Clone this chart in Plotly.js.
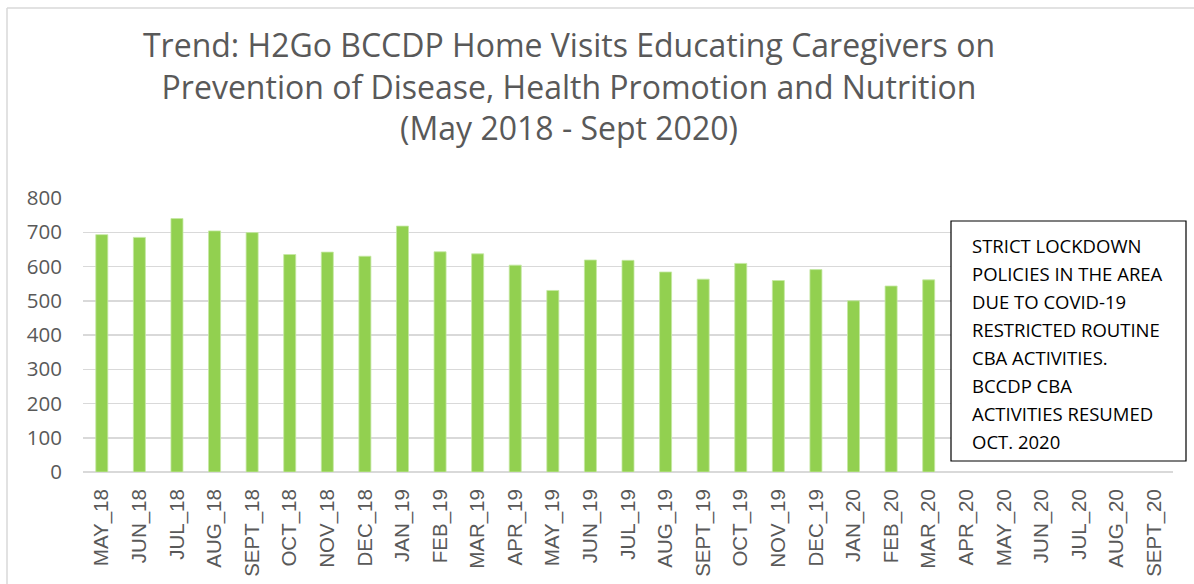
<!DOCTYPE html>
<html>
<head>
<meta charset="utf-8">
<script src="https://cdn.plot.ly/plotly-3.0.1.min.js"></script>
<style>
html,body{margin:0;padding:0;background:#fff;}
#chart{width:1194px;height:584px;}
</style>
</head>
<body>
<div id="chart"></div>
<script>
var categories = ["MAY_18","JUN_18","JUL_18","AUG_18","SEPT_18","OCT_18","NOV_18","DEC_18",
  "JAN_19","FEB_19","MAR_19","APR_19","MAY_19","JUN_19","JUL_19","AUG_19","SEPT_19","OCT_19","NOV_19","DEC_19",
  "JAN_20","FEB_20","MAR_20","APR_20","MAY_20","JUN_20","JUL_20","AUG_20","SEPT_20"];
var homeVisits = [693,685,740,704,699,635,642,630,
  718,643,637,604,530,619,618,584,563,609,559,591,
  500,543,561,null,null,null,null,null,null];
var yTicks = [0,100,200,300,400,500,600,700,800];
var titleLines = ["Trend: H2Go BCCDP Home Visits Educating Caregivers on",
  "Prevention of Disease, Health Promotion and Nutrition",
  "(May 2018 - Sept 2020)"];
var noteLines = ["STRICT LOCKDOWN","POLICIES IN THE AREA","DUE TO COVID-19",
  "RESTRICTED ROUTINE","CBA ACTIVITIES.","BCCDP CBA","ACTIVITIES RESUMED","OCT. 2020"];

var W = 1194, H = 584;
var mL = 83, mR = 21, mT = 198, mB = 112;
var pw = W - mL - mR, ph = H - mT - mB;
function px2x(x){ return (x - mL) / pw; }
function px2y(y){ return (H - mB - y) / ph; }

var annotations = noteLines.map(function(t, i){
  return {
    text: t, xref: 'paper', yref: 'paper',
    x: px2x(970), y: px2y(245 + 28 * i),
    xanchor: 'left', yanchor: 'middle', showarrow: false,
    font: {family: 'Open Sans, sans-serif', size: 18.5, color: '#000000'}
  };
});

var shapes = [
  {type: 'rect', xref: 'paper', yref: 'paper',
   x0: px2x(951), x1: px2x(1186), y0: px2y(461), y1: px2y(221),
   line: {color: '#000000', width: 1.2}, fillcolor: '#ffffff', layer: 'above'},
  {type: 'line', xref: 'paper', yref: 'paper',
   x0: px2x(7), x1: px2x(1200), y0: px2y(8), y1: px2y(8),
   line: {color: '#d9d9d9', width: 1.5}},
  {type: 'line', xref: 'paper', yref: 'paper',
   x0: px2x(7), x1: px2x(7), y0: px2y(8), y1: px2y(600),
   line: {color: '#d9d9d9', width: 1.5}}
];

var trace = {
  type: 'bar', x: categories, y: homeVisits,
  marker: {color: '#92d050', line: {color: '#c5e8a3', width: 0.8}},
  hoverinfo: 'x+y'
};

var layout = {
  width: W, height: H,
  margin: {l: mL, r: mR, t: mT, b: mB, pad: 0},
  paper_bgcolor: '#ffffff', plot_bgcolor: '#ffffff',
  showlegend: false,
  bargap: 0.68,
  title: {
    text: titleLines.join('<br>'),
    xref: 'container', x: 569 / W, xanchor: 'center',
    yref: 'container', y: 1 - 57 / H, yanchor: 'middle',
    font: {family: 'Open Sans, sans-serif', size: 32, color: '#595959'}
  },
  xaxis: {
    type: 'category', tickangle: -90,
    tickfont: {family: 'Liberation Sans, Arial, sans-serif', size: 20.5, color: '#595959'},
    showgrid: false, zeroline: false, showline: false, ticks: '',
    ticklabelstandoff: 12, fixedrange: true
  },
  yaxis: {
    range: [0, 800], tickvals: yTicks, ticktext: yTicks.map(String),
    tickfont: {family: 'Open Sans, sans-serif', size: 20.5, color: '#595959'},
    showgrid: true, gridcolor: '#d9d9d9', gridwidth: 1.5,
    zeroline: true, zerolinecolor: '#d9d9d9', zerolinewidth: 1.5,
    showline: false, ticks: '', ticklabelstandoff: 20, fixedrange: true
  },
  annotations: annotations,
  shapes: shapes
};

Plotly.newPlot('chart', [trace], layout, {displayModeBar: false, staticPlot: true});
</script>
</body>
</html>
